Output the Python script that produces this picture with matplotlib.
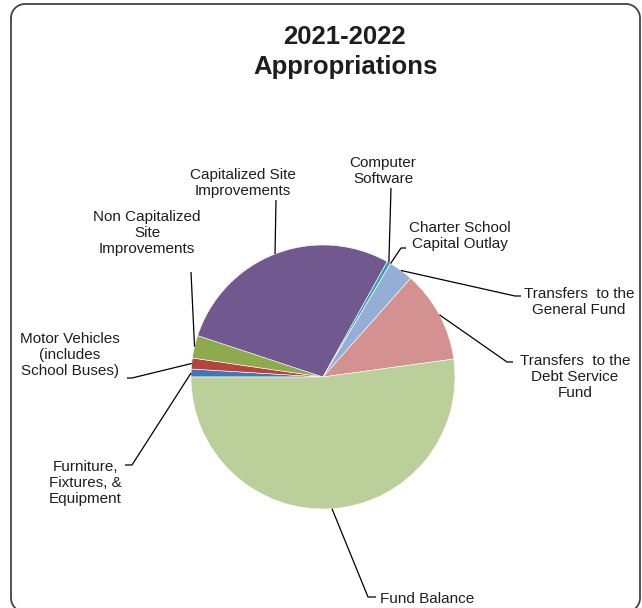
import numpy as np
import matplotlib
matplotlib.use("Agg")
from matplotlib import pyplot as plt

# Appropriations share by category (percent of total), in series order
categories = [
    "Furniture,\nFixtures, &\nEquipment",
    "Motor Vehicles\n(includes\nSchool Buses)",
    "Non Capitalized\nSite\nImprovements",
    "Capitalized Site\nImprovements",
    "Computer\nSoftware",
    "Charter School\nCapital Outlay",
    "Transfers  to the\nGeneral Fund",
    "Transfers  to the\nDebt Service\nFund",
    "Fund Balance",
]
shares = [0.97, 1.33, 2.78, 28.0, 0.47, 0.0, 3.0, 11.28, 52.17]
colors = ["#4277B5", "#B5433F", "#8DAA4C", "#71588F", "#3A9FB5",
          "#F79646", "#95AED5", "#D39291", "#BACF99"]

# label text centre, leader elbow, leader end at the text (pixel coords, y down)
label_pos = [(85, 483), (70, 355), (147, 233), (243, 183), (383, 171),
             (460, 236), (579, 302), (575, 377), (427, 599)]
elbows = [(132, 465), (132, 378), (191, 272), (276, 200), (391, 188),
          (401, 248), (515, 296), (507, 362), (368, 597)]
tails = [(125, 465), (127, 378), (191, 272), (276, 200), (391, 188),
         (406, 248), (521, 296), (513, 362), (376, 597)]

W, H = 642, 608
CX, CY, R = 323, 377, 132
FONT = "Liberation Sans"
TEXT_COLOR = "#1e1e1e"


def rounded_outline(x0, y0, x1, y1, rad, n=20):
    """Closed outline of a rounded rectangle (y grows downward)."""
    pts = []
    corners = [(x0 + rad, y0 + rad, 180, 270), (x1 - rad, y0 + rad, 270, 360),
               (x1 - rad, y1 - rad, 0, 90), (x0 + rad, y1 - rad, 90, 180)]
    for cx, cy, a0, a1 in corners:
        t = np.deg2rad(np.linspace(a0, a1, n))
        pts.extend(zip(cx + rad * np.cos(t), cy + rad * np.sin(t)))
    pts.append(pts[0])
    return np.array(pts)


fig = plt.figure(figsize=(W / 100, H / 100), dpi=100)
ax = fig.add_axes([0, 0, 1, 1])

# y axis runs downward, so counterclock=True ends up clockwise on screen
wedges, _ = ax.pie(
    shares, colors=colors, startangle=180, counterclock=True,
    center=(CX, CY), radius=R,
    wedgeprops=dict(edgecolor="white", linewidth=0.4),
)
ax.set_xlim(0, W)
ax.set_ylim(H, 0)
ax.set_aspect("equal")
ax.axis("off")

# outer rounded border; its bottom edge falls just past the canvas
outline = rounded_outline(11, 4, 640, 612, 14)
ax.plot(outline[:, 0], outline[:, 1], color="#444444", linewidth=1.3)

ax.text(344, 37, "2021-2022", ha="center", va="center", fontsize=18.5,
        fontweight="bold", family=FONT, color=TEXT_COLOR)
ax.text(346, 67, "Appropriations", ha="center", va="center", fontsize=18.5,
        fontweight="bold", family=FONT, color=TEXT_COLOR)

for w, label, pos, elbow, tail in zip(wedges, categories, label_pos, elbows, tails):
    mid = np.deg2rad((w.theta1 + w.theta2) / 2)
    ex = CX + R * np.cos(mid)
    ey = CY + R * np.sin(mid)
    ax.plot([ex, elbow[0], tail[0]], [ey, elbow[1], tail[1]],
            color="black", linewidth=0.9, solid_capstyle="butt")
    ax.text(pos[0], pos[1], label, ha="center", va="center",
            multialignment="center", fontsize=11, family=FONT,
            color=TEXT_COLOR, linespacing=1.2)

fig.savefig("out.png", dpi=100)
